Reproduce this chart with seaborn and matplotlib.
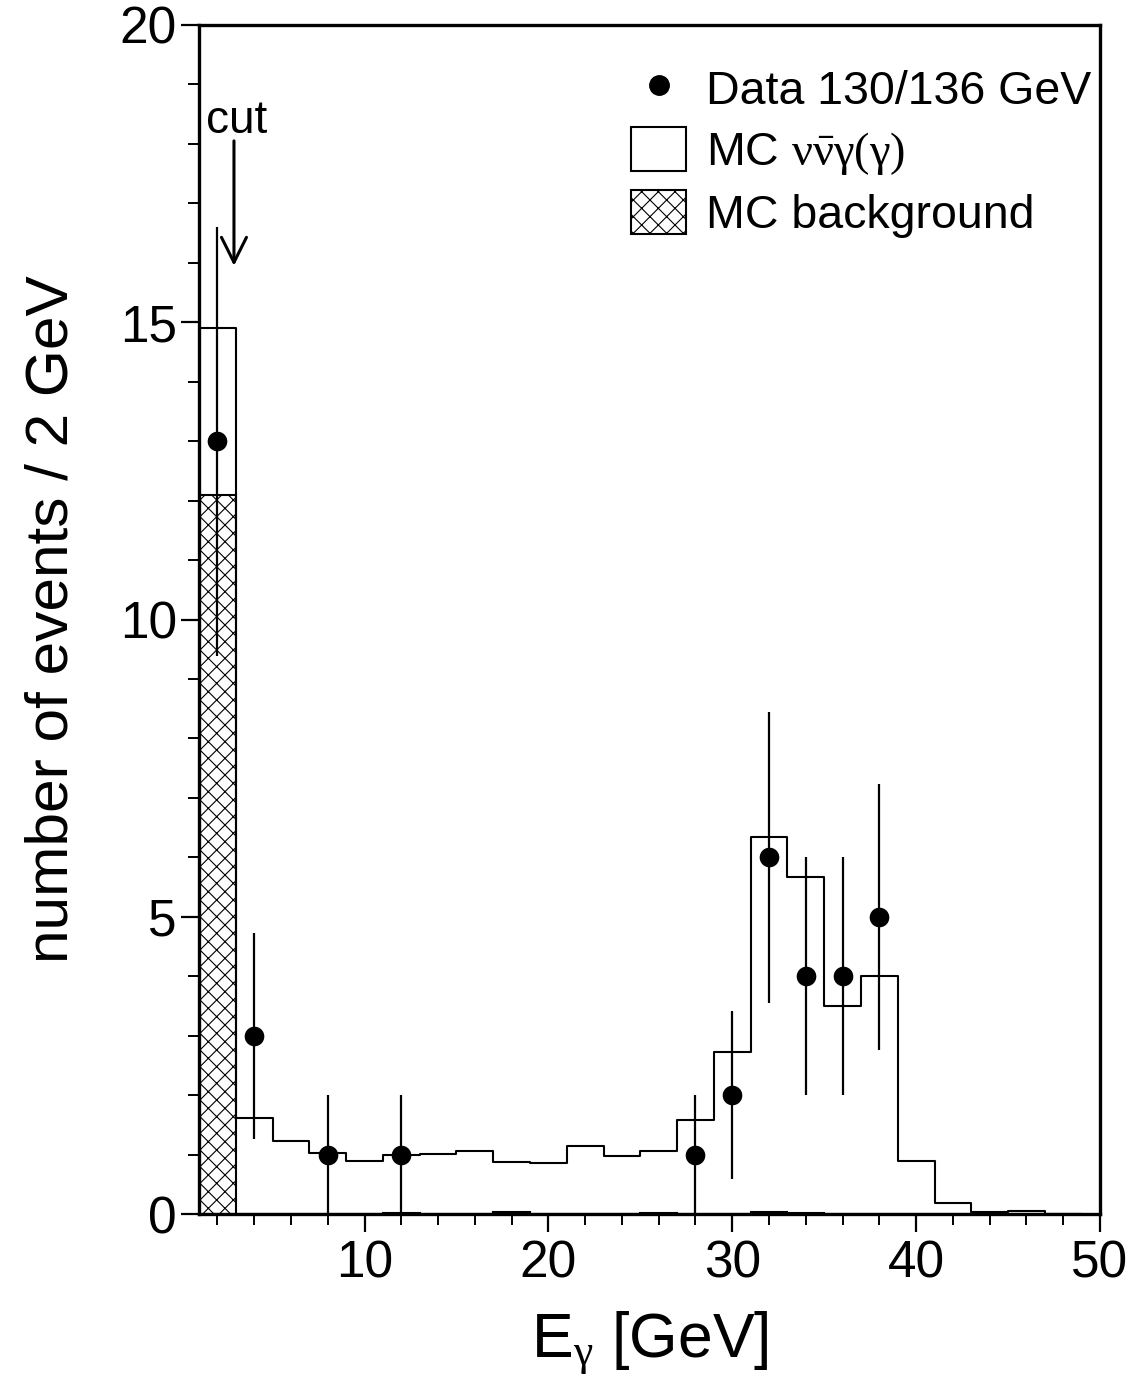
import matplotlib
matplotlib.use("Agg")
import matplotlib.pyplot as plt
from matplotlib.ticker import MultipleLocator
from matplotlib.patches import Patch
from matplotlib.lines import Line2D
import pandas as pd
import seaborn as sns

# 2 GeV photon-energy bins
bin_edges = [1, 3, 5, 7, 9, 11, 13, 15, 17, 19, 21, 23, 25,
             27, 29, 31, 33, 35, 37, 39, 41, 43, 45, 47, 49]
bin_centers = [2, 4, 6, 8, 10, 12, 14, 16, 18, 20, 22, 24,
               26, 28, 30, 32, 34, 36, 38, 40, 42, 44, 46, 48]

# Monte Carlo expectation: total (signal + background) and background alone
mc_total = [14.90, 1.61, 1.23, 1.03, 0.90, 1.00, 1.01, 1.06, 0.87, 0.86, 1.14, 0.98,
            1.06, 1.58, 2.72, 6.35, 5.67, 3.50, 4.01, 0.90, 0.19, 0.04, 0.06, 0.00]
mc_background = [12.10, 0.00, 0.00, 0.00, 0.00, 0.02, 0.00, 0.00, 0.03, 0.00, 0.00, 0.00,
                 0.02, 0.00, 0.00, 0.03, 0.02, 0.00, 0.00, 0.00, 0.00, 0.00, 0.00, 0.00]

# Selected events
data_energy = [2, 4, 8, 12, 28, 30, 32, 34, 36, 38]
data_counts = [13, 3, 1, 1, 1, 2, 6, 4, 4, 5]
data_errors = [3.61, 1.73, 1.00, 1.00, 1.00, 1.41, 2.45, 2.00, 2.00, 2.24]

x_major_ticks = [10, 20, 30, 40, 50]
y_major_ticks = [0, 5, 10, 15, 20]

mc = pd.DataFrame({"E": bin_centers, "total": mc_total, "bkg": mc_background})
data = pd.DataFrame({"E": data_energy, "n": data_counts, "err": data_errors})

sns.set_style("ticks")
plt.rcParams["font.family"] = ["Liberation Sans", "DejaVu Sans"]
# Greek symbols set upright in a serif face
plt.rcParams["mathtext.fontset"] = "custom"
plt.rcParams["mathtext.rm"] = "Liberation Serif"
plt.rcParams["mathtext.it"] = "Liberation Serif"
plt.rcParams["mathtext.bf"] = "Liberation Serif:bold"
plt.rcParams["hatch.linewidth"] = 0.8
for key in ["text.color", "axes.labelcolor", "xtick.color", "ytick.color",
            "axes.edgecolor"]:
    plt.rcParams[key] = "black"

fig = plt.figure(figsize=(11.38, 13.95), dpi=100)
ax = fig.add_axes([0.1749, 0.1297, 0.9666 - 0.1749, 0.9821 - 0.1297])

# background histogram, hatched
sns.histplot(data=mc, x="E", weights="bkg", bins=bin_edges, element="bars",
             fill=True, color="white", edgecolor="black", linewidth=1.5,
             hatch="xx", alpha=1, ax=ax)
# total expectation, open step line
sns.histplot(data=mc, x="E", weights="total", bins=bin_edges, element="step",
             fill=False, color="black", linewidth=1.5, ax=ax)

# data points with statistical errors
ax.errorbar(data["E"], data["n"], yerr=data["err"], fmt="none",
            ecolor="black", elinewidth=1.6, capsize=0, zorder=4)
sns.scatterplot(data=data, x="E", y="n", color="black", s=200,
                edgecolor="black", linewidth=0, zorder=5, ax=ax)

# cut marker
ax.annotate("", xy=(2.9, 15.95), xytext=(2.9, 18.05),
            arrowprops=dict(arrowstyle="->", lw=2.2, color="black",
                            mutation_scale=45, shrinkA=0, shrinkB=0))
ax.text(3.07, 18.18, "cut", fontsize=33, ha="center", va="baseline")

ax.set_xlim(1, 50)
ax.set_ylim(0, 20)
ax.set_xticks(x_major_ticks)
ax.set_yticks(y_major_ticks)
ax.xaxis.set_minor_locator(MultipleLocator(2))
ax.yaxis.set_minor_locator(MultipleLocator(1))
ax.tick_params(axis="both", which="major", direction="out", length=13, width=1.6,
               labelsize=37, top=False, right=False)
ax.tick_params(axis="y", which="major", pad=3)
ax.tick_params(axis="x", which="major", pad=5)
ax.tick_params(axis="both", which="minor", direction="out", length=8, width=1.4,
               top=False, right=False)
for side in ["left", "right", "top", "bottom"]:
    ax.spines[side].set_visible(True)
    ax.spines[side].set_linewidth(2.4)
    ax.spines[side].set_color("black")

ax.set_xlabel(r"E$_\mathrm{\gamma}$ [GeV]", fontsize=45, labelpad=15)
ax.set_ylabel("number of events / 2 GeV", fontsize=43.5, labelpad=29)

handles = [
    Line2D([], [], marker="o", color="black", linestyle="none", markersize=14),
    Patch(facecolor="white", edgecolor="black", linewidth=1.5),
    Patch(facecolor="white", edgecolor="black", linewidth=1.5, hatch="xx"),
]
labels = ["Data 130/136 GeV", r"MC $\mathrm{\nu\bar{\nu}\gamma(\gamma)}$", "MC background"]
ax.legend(handles, labels, loc="upper left", bbox_to_anchor=(0.480, 0.965),
          frameon=False, fontsize=33.5, handlelength=1.18, handleheight=1.07,
          handletextpad=0.42, labelspacing=0.28, borderpad=0, borderaxespad=0)

fig.savefig("out.png", dpi=100)
